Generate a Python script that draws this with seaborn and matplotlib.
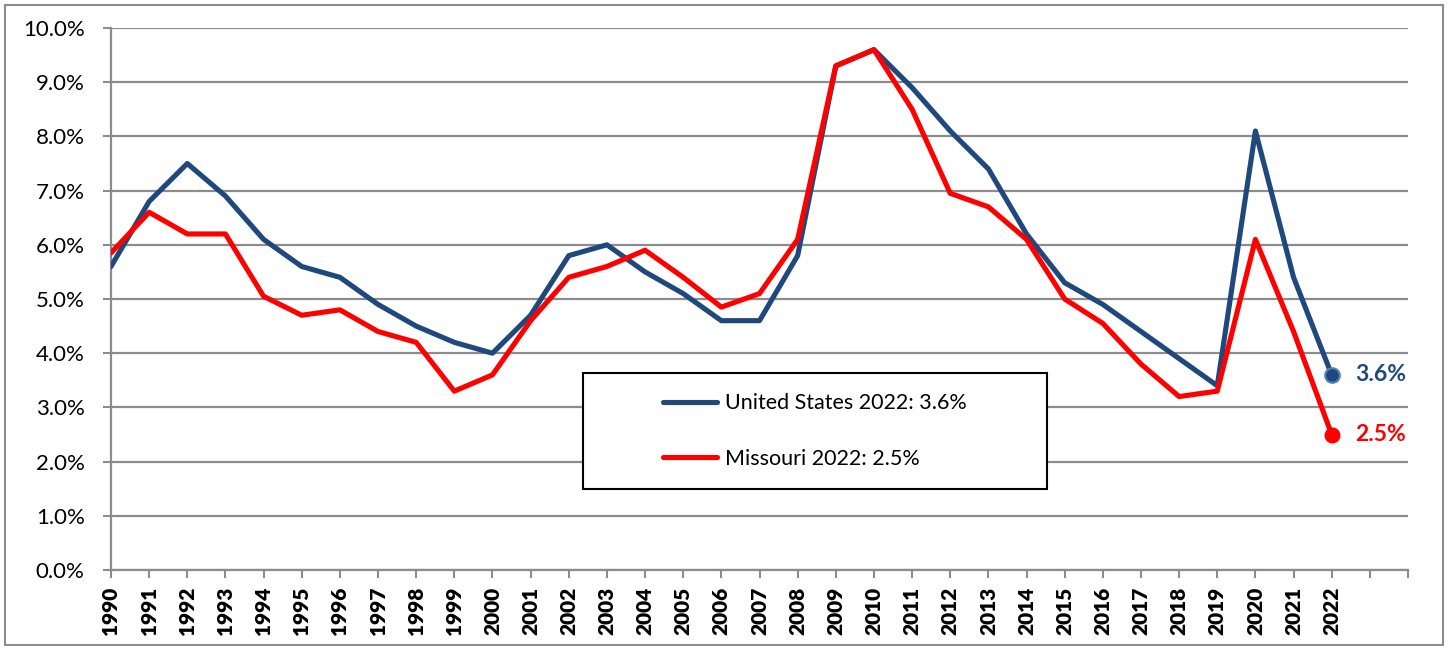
import matplotlib
matplotlib.use("Agg")
import matplotlib.pyplot as plt
from matplotlib.patches import Rectangle
from matplotlib.ticker import FuncFormatter, FixedLocator, FixedFormatter
import seaborn as sns
import pandas as pd

# Annual unemployment rate, percent
years = list(range(1990, 2023))
us_rate = [5.6, 6.8, 7.5, 6.9, 6.1, 5.6, 5.4, 4.9, 4.5, 4.2, 4.0, 4.7, 5.8, 6.0,
           5.5, 5.1, 4.6, 4.6, 5.8, 9.3, 9.6, 8.9, 8.1, 7.4, 6.2, 5.3, 4.9, 4.4,
           3.9, 3.4, 8.1, 5.4, 3.6]
mo_rate = [5.85, 6.6, 6.2, 6.2, 5.05, 4.7, 4.8, 4.4, 4.2, 3.3, 3.6, 4.6, 5.4, 5.6,
           5.9, 5.4, 4.85, 5.1, 6.1, 9.3, 9.6, 8.5, 6.95, 6.7, 6.1, 5.0, 4.55, 3.8,
           3.2, 3.3, 6.1, 4.4, 2.5]
tick_years = list(range(1990, 2025))
tick_labels = [str(y) if y <= 2022 else "" for y in tick_years]
y_ticks = [i * 1.0 for i in range(11)]

us_name = f"United States 2022: {us_rate[-1]:.1f}%"
mo_name = f"Missouri 2022: {mo_rate[-1]:.1f}%"
BLUE = "#1F497D"
RED = "#FF0000"
GRID = "#8C8C8C"

df = pd.DataFrame({
    "year": years * 2,
    "rate": us_rate + mo_rate,
    "series": [us_name] * len(years) + [mo_name] * len(years),
})

sns.set_theme(style="white")
plt.rcParams["font.family"] = ["Lato", "DejaVu Sans"]
plt.rcParams["text.color"] = "black"
plt.rcParams["xtick.labelcolor"] = "black"
plt.rcParams["ytick.labelcolor"] = "black"
plt.rcParams["xtick.labelsize"] = 15
plt.rcParams["ytick.labelsize"] = 16

fig = plt.figure(figsize=(14.52, 6.46), dpi=100)
ax = fig.add_axes([111 / 1452, 76 / 646, 1297 / 1452, 542 / 646])

sns.lineplot(data=df, x="year", y="rate", hue="series",
             palette={us_name: BLUE, mo_name: RED}, linewidth=3.7,
             ax=ax, legend=False, zorder=3)

# End-point markers and value labels
ax.plot(years[-1], us_rate[-1], "o", ms=10.5, mfc=BLUE, mec="#4F81BD", mew=1.5, zorder=4)
ax.plot(years[-1], mo_rate[-1], "o", ms=10.5, mfc=RED, mec=RED, zorder=4)
ax.annotate(f"{us_rate[-1]:.1f}%", (years[-1], us_rate[-1]), xytext=(17, 0),
            textcoords="offset points", va="center", ha="left",
            fontsize=16.5, fontweight="bold", color=BLUE)
ax.annotate(f"{mo_rate[-1]:.1f}%", (years[-1], mo_rate[-1]), xytext=(17, 0),
            textcoords="offset points", va="center", ha="left",
            fontsize=16.5, fontweight="bold", color=RED)

ax.set_xlim(1990, 2024)
ax.set_ylim(0, 10)
ax.yaxis.set_major_locator(FixedLocator(y_ticks))
ax.yaxis.set_major_formatter(FuncFormatter(lambda v, p: f"{v:.1f}%"))
ax.xaxis.set_major_locator(FixedLocator(tick_years))
ax.xaxis.set_major_formatter(FixedFormatter(tick_labels))
ax.tick_params(axis="y", length=6, width=1.5, color=GRID, pad=13, left=True)
ax.tick_params(axis="x", length=6, width=1.5, color=GRID, pad=6, bottom=True,
               labelrotation=90)
ax.set_xlabel("")
ax.set_ylabel("")

ax.grid(axis="y", color=GRID, linewidth=1.6)
ax.grid(axis="x", visible=False)
ax.set_axisbelow(True)
for side in ("top", "right"):
    ax.spines[side].set_visible(False)
for side in ("left", "bottom"):
    ax.spines[side].set_color(GRID)
    ax.spines[side].set_linewidth(1.6)

# Legend box
ax.add_patch(Rectangle((0.3639, 0.1494), 0.3578, 0.2140, transform=ax.transAxes,
                       facecolor="white", edgecolor="black", linewidth=1.5,
                       zorder=5, clip_on=False))
handles = [plt.Line2D([], [], color=BLUE, lw=3.7, solid_capstyle="round"),
           plt.Line2D([], [], color=RED, lw=3.7, solid_capstyle="round")]
leg = ax.legend(handles, [us_name, mo_name], loc="center",
                bbox_to_anchor=(0.5428, 0.2565), frameon=False, fontsize=15.5,
                handlelength=2.5, handletextpad=0.4, labelspacing=1.65)
for t in leg.get_texts():
    t.set_color("black")
leg.set_zorder(6)

# Chart border
fig.patches.append(Rectangle((5 / 1452, 1 / 646), 1438 / 1452, 640 / 646,
                             transform=fig.transFigure, fill=False,
                             edgecolor=GRID, linewidth=1.5))

# Heavy year labels (applied once the ticks exist)
fig.canvas.draw()
for tick in ax.xaxis.get_major_ticks():
    tick.label1.set_fontweight("heavy")
    tick.label1.set_fontsize(15)

fig.savefig("out.png", dpi=100)
